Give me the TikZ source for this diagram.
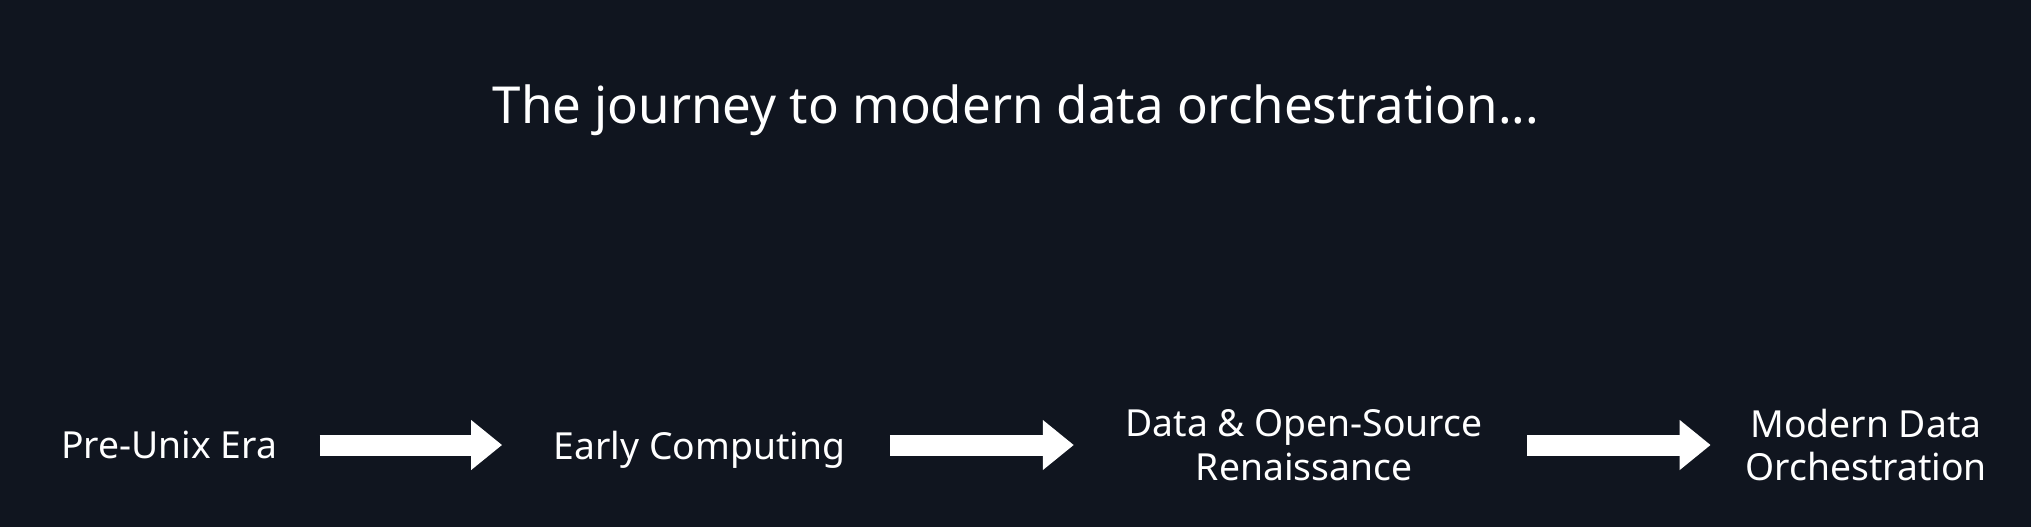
\documentclass[tikz,border=0pt]{standalone}
\usepackage{fontspec}
\setmainfont{Noto Sans}
\usetikzlibrary{arrows.meta}
\definecolor{slidebg}{HTML}{10151F}

\begin{document}
\begin{tikzpicture}[
  x=0.01cm, y=-0.01cm,
  heading/.style={text=white, font=\fontsize{14.5}{17}\selectfont,
                  inner sep=0pt, anchor=base},
  era/.style={text=white, font=\fontsize{10.6}{12.4}\selectfont,
              align=center, inner sep=0pt},
  flow/.style={draw=white, line width=2.1mm,
               -{Triangle[length=3.1mm,width=4.8mm]}},
]

%% Background
\fill[slidebg] (0,0) rectangle (2031,527);
\useasboundingbox (0,0) rectangle (2031,527);

%% Heading
\node[heading] (title) at (1016,123) {The journey to modern data orchestration...};

%% Eras
\node[era, text depth=0pt] (pre)    at (169,445)   {Pre-Unix Era};
\node[era, text depth=0pt] (early)  at (699.5,445) {Early Computing};
\node[era]                 (data)   at (1304,445)  {Data \& Open-Source\\Renaissance};
\node[era]                 (modern) at (1866,445)  {Modern Data\\Orchestration};

%% Arrows between eras
\draw[flow, shorten <=4.2mm, shorten >=5.1mm] (pre)   -- (early);
\draw[flow, shorten <=4.4mm, shorten >=5.1mm] (early) -- (data);
\draw[flow, shorten <=4.4mm, shorten >=3.4mm] (data)  -- (modern);

\end{tikzpicture}
\end{document}
